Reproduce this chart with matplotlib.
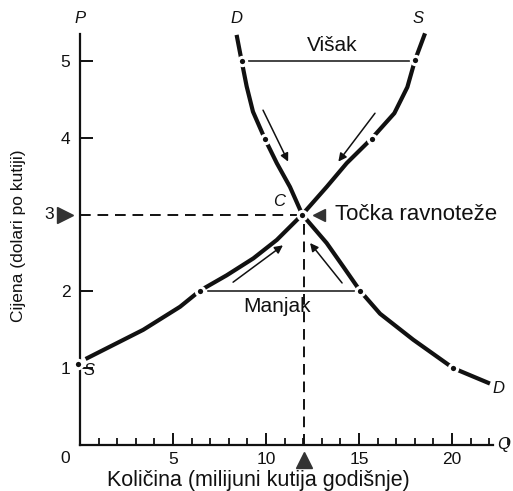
import numpy as np
import matplotlib.pyplot as plt
from matplotlib.ticker import MultipleLocator

plt.rcParams['font.family'] = ['Liberation Sans', 'DejaVu Sans']

# demand curve D (quantity, price)
q_demand = [8.42, 8.69, 8.96, 9.3, 9.95, 10.58, 11.29, 11.95,
            13.26, 14.16, 15.05, 16.13, 17.92, 20.07, 22.04]
p_demand = [5.34, 5.0, 4.67, 4.34, 3.98, 3.67, 3.36, 3.0,
            2.63, 2.32, 2.01, 1.71, 1.37, 1.0, 0.8]

# supply curve S
q_supply = [0.3, 3.4, 5.38, 6.45, 7.89, 9.32, 10.58, 11.95,
            13.26, 14.34, 15.68, 16.9, 17.6, 18.01, 18.55]
p_supply = [1.12, 1.5, 1.8, 2.01, 2.21, 2.43, 2.67, 3.0,
            3.36, 3.67, 3.99, 4.32, 4.66, 5.01, 5.36]

# marked points on each curve
q_dots_d = [8.69, 9.95, 15.05, 20.07]
p_dots_d = [5.0, 3.98, 2.01, 1.0]
q_dots_s = [-0.1, 6.45, 15.68, 18.01]
p_dots_s = [1.06, 2.01, 3.99, 5.01]

q_eq, p_eq = 11.95, 3.0

# surplus / shortage gaps
p_surplus, q_surplus = 5.0, (8.96, 17.83)
p_short, q_short = 2.01, (6.9, 14.88)

y_ticks = [1, 2, 4, 5]
x_major = [5, 10, 15, 20]

ink = '#111111'

fig = plt.figure(figsize=(5.13, 4.91), dpi=100)
ax = fig.add_axes([80/513, 46/491, 23*18.6/513, 5.6*76.8/491])
ax.set_xlim(0, 23)
ax.set_ylim(0, 5.6)

for s in ['top', 'right']:
    ax.spines[s].set_visible(False)
ax.spines['left'].set_bounds(0, 5.35)
ax.spines['bottom'].set_bounds(0, 22.2)
for s in ['left', 'bottom']:
    ax.spines[s].set_linewidth(1.6)
    ax.spines[s].set_color(ink)

ax.set_yticks(y_ticks)
ax.set_yticklabels([str(v) for v in y_ticks])
ax.set_xticks(x_major)
ax.set_xticklabels([str(v) for v in x_major])
ax.xaxis.set_minor_locator(MultipleLocator(1))
ax.tick_params(axis='y', direction='in', length=9, width=1.4, pad=7, labelsize=12.5, colors=ink)
ax.tick_params(axis='x', which='major', direction='in', length=9, width=1.4, pad=5, labelsize=12.5, colors=ink)
ax.tick_params(axis='x', which='minor', direction='in', length=5, width=1.3, colors=ink)

# curves
ax.plot(q_demand, p_demand, color=ink, lw=3.0, solid_capstyle='butt', solid_joinstyle='round', zorder=3)
ax.plot(q_supply, p_supply, color=ink, lw=3.0, solid_capstyle='butt', solid_joinstyle='round', zorder=3)
ax.plot(q_dots_d + q_dots_s + [q_eq], p_dots_d + p_dots_s + [p_eq], 'o', ms=6,
        mfc=ink, mec='white', mew=2.2, zorder=4, clip_on=False)

# surplus and shortage lines
ax.plot(q_surplus, [p_surplus, p_surplus], color=ink, lw=1.1, zorder=2)
ax.plot(q_short, [p_short, p_short], color=ink, lw=1.1, zorder=2)

# equilibrium guides
ax.plot([0, q_eq - 0.3], [p_eq, p_eq], color=ink, lw=1.4, dashes=(5.5, 3.5), zorder=2)
ax.plot([q_eq + 0.1, q_eq + 0.1], [p_eq - 0.12, 0], color=ink, lw=1.4, dashes=(5.5, 3.5), zorder=2)

# adjustment arrows
arrows = [((9.84, 4.36), (11.19, 3.69)), ((15.86, 4.32), (13.89, 3.69)),
          ((8.23, 2.12), (10.91, 2.6)), ((14.09, 2.11), (12.37, 2.63))]
for start, end in arrows:
    ax.annotate('', xy=end, xytext=start,
                arrowprops=dict(arrowstyle='-|>', color=ink, lw=1.1, mutation_scale=12,
                                shrinkA=0, shrinkB=0))

# triangles
ax.plot([-0.8], [p_eq], marker='>', ms=12, color='#333333', clip_on=False)
ax.plot([q_eq + 0.1], [-0.2], marker='^', ms=12, color='#333333', clip_on=False)
ax.plot([12.85], [p_eq], marker='<', ms=9, color='#333333', clip_on=False)

# labels
kw = dict(color=ink, clip_on=False)
ax.text(-1.4, p_eq, '3', fontsize=12.5, ha='right', va='center', **kw)
ax.text(-0.8, -0.17, '0', fontsize=12.5, ha='center', va='center', **kw)
ax.text(0, 5.55, 'P', fontsize=12, style='italic', ha='center', va='center', **kw)
ax.text(8.44, 5.55, 'D', fontsize=12, style='italic', ha='center', va='center', **kw)
ax.text(18.17, 5.55, 'S', fontsize=12, style='italic', ha='center', va='center', **kw)
ax.text(22.8, 0.01, 'Q', fontsize=12, style='italic', ha='center', va='center', **kw)
ax.text(22.5, 0.74, 'D', fontsize=12, style='italic', ha='center', va='center', **kw)
ax.text(0.5, 0.97, 'S', fontsize=12, style='italic', ha='center', va='center', **kw)
ax.text(10.7, 3.17, 'C', fontsize=12, style='italic', ha='center', va='center', **kw)
ax.text(13.7, p_eq, 'Točka ravnoteže', fontsize=16, ha='left', va='center', **kw)
ax.text(13.55, 5.2, 'Višak', fontsize=15, ha='center', va='center', **kw)
ax.text(10.6, 1.8, 'Manjak', fontsize=15, ha='center', va='center', **kw)
ax.text(9.57, -0.46, 'Količina (milijuni kutija godišnje)', fontsize=15.5,
        ha='center', va='center', **kw)
ax.text(-3.33, 2.73, 'Cijena (dolari po kutiji)', fontsize=12.5, rotation=90,
        ha='center', va='center', **kw)

fig.savefig('out.png', dpi=100)
